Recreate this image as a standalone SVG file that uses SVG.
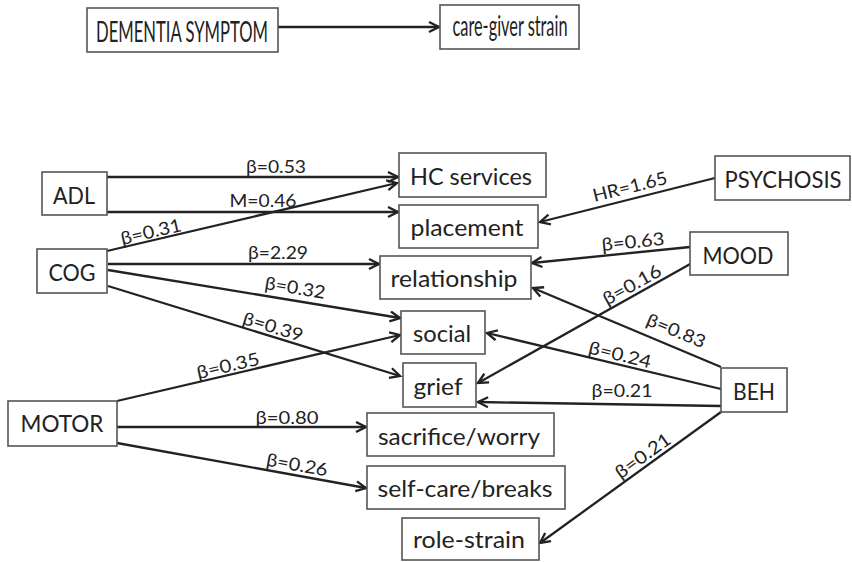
<svg xmlns="http://www.w3.org/2000/svg" width="852" height="562" viewBox="0 0 852 562">
<style>
.box{fill:#fff;stroke:#555;stroke-width:1.6}
.bt{font-family:Lato,"Open Sans","Liberation Sans",sans-serif;font-size:23.5px;fill:#222;text-anchor:middle}
.tt{font-size:28px}
.lb{font-family:Lato,"Open Sans","Liberation Sans",sans-serif;font-size:18px;fill:#222;text-anchor:middle}
.c line{stroke:#222;stroke-width:2.3;fill:none;marker-end:url(#ah)}
</style>
<defs>
<marker id="ah" markerUnits="userSpaceOnUse" markerWidth="14" markerHeight="14" refX="11" refY="6" orient="auto">
<path d="M1,1 L11,6 L1,11" fill="none" stroke="#222" stroke-width="2.3"/>
</marker>
</defs>
<rect width="852" height="562" fill="#fff"/>
<g class="c" id="connectors">
<line x1="278" y1="27" x2="439" y2="27"/>
<line x1="107" y1="177" x2="398" y2="177"/>
<line x1="107" y1="212" x2="398" y2="212"/>
<line x1="107" y1="251" x2="397" y2="183"/>
<line x1="108" y1="264" x2="379" y2="264"/>
<line x1="108" y1="270" x2="400" y2="318"/>
<line x1="108" y1="286" x2="400" y2="376"/>
<line x1="117" y1="401" x2="400" y2="335"/>
<line x1="117" y1="427" x2="366" y2="427"/>
<line x1="117" y1="443" x2="366" y2="488"/>
<line x1="715" y1="178" x2="540" y2="222"/>
<line x1="690" y1="247" x2="532" y2="263"/>
<line x1="692" y1="263" x2="478" y2="383"/>
<line x1="721" y1="367" x2="533" y2="288"/>
<line x1="721" y1="389" x2="487" y2="333"/>
<line x1="721" y1="406" x2="478" y2="402"/>
<line x1="721" y1="412" x2="540" y2="543"/>
</g>
<g id="labels">
<text class="lb" x="276" y="173" textLength="60" lengthAdjust="spacingAndGlyphs">β=0.53</text>
<text class="lb" x="263" y="207" textLength="67" lengthAdjust="spacingAndGlyphs">M=0.46</text>
<text class="lb" transform="translate(151,232) rotate(-13.2)" x="0" y="6" textLength="62" lengthAdjust="spacingAndGlyphs">β=0.31</text>
<text class="lb" x="278" y="259" textLength="60" lengthAdjust="spacingAndGlyphs">β=2.29</text>
<text class="lb" transform="translate(295,288) rotate(9.3)" x="0" y="6" textLength="61" lengthAdjust="spacingAndGlyphs">β=0.32</text>
<text class="lb" transform="translate(273,327) rotate(17)" x="0" y="6" textLength="62" lengthAdjust="spacingAndGlyphs">β=0.39</text>
<text class="lb" transform="translate(228,366) rotate(-13.2)" x="0" y="6" textLength="64" lengthAdjust="spacingAndGlyphs">β=0.35</text>
<text class="lb" x="287" y="424" textLength="63" lengthAdjust="spacingAndGlyphs">β=0.80</text>
<text class="lb" transform="translate(297,465) rotate(10.2)" x="0" y="6" textLength="62" lengthAdjust="spacingAndGlyphs">β=0.26</text>
<text class="lb" transform="translate(630,187) rotate(-14)" x="0" y="6" textLength="76" lengthAdjust="spacingAndGlyphs">HR=1.65</text>
<text class="lb" transform="translate(633,242) rotate(-5.7)" x="0" y="6" textLength="63" lengthAdjust="spacingAndGlyphs">β=0.63</text>
<text class="lb" transform="translate(632,285) rotate(-29)" x="0" y="6" textLength="64" lengthAdjust="spacingAndGlyphs">β=0.16</text>
<text class="lb" transform="translate(676,331) rotate(22.7)" x="0" y="6" textLength="62" lengthAdjust="spacingAndGlyphs">β=0.83</text>
<text class="lb" transform="translate(620,355) rotate(13.6)" x="0" y="6" textLength="64" lengthAdjust="spacingAndGlyphs">β=0.24</text>
<text class="lb" x="622" y="397" textLength="61" lengthAdjust="spacingAndGlyphs">β=0.21</text>
<text class="lb" transform="translate(643,456) rotate(-35.7)" x="0" y="6" textLength="64" lengthAdjust="spacingAndGlyphs">β=0.21</text>
</g>
<g id="dementia-symptom"><rect class="box" x="87" y="8" width="191" height="44"/><text class="bt tt" x="182" y="42" textLength="172" lengthAdjust="spacingAndGlyphs">DEMENTIA SYMPTOM</text></g>
<g id="care-giver-strain"><rect class="box" x="440" y="5" width="139" height="44"/><text class="bt tt" x="510" y="36" textLength="115" lengthAdjust="spacingAndGlyphs">care-giver strain</text></g>
<g id="adl"><rect class="box" x="42" y="172" width="65" height="43"/><text class="bt" x="74" y="204" textLength="42" lengthAdjust="spacingAndGlyphs">ADL</text></g>
<g id="cog"><rect class="box" x="37" y="249" width="70" height="44"/><text class="bt" x="72" y="281" textLength="47" lengthAdjust="spacingAndGlyphs">COG</text></g>
<g id="motor"><rect class="box" x="8" y="401" width="109" height="45"/><text class="bt" x="62" y="432" textLength="83" lengthAdjust="spacingAndGlyphs">MOTOR</text></g>
<g id="hc-services"><rect class="box" x="399" y="153" width="147" height="44"/><text class="bt" x="471" y="185" textLength="122" lengthAdjust="spacingAndGlyphs">HC services</text></g>
<g id="placement"><rect class="box" x="399" y="205" width="139" height="43"/><text class="bt" x="467" y="236" textLength="113" lengthAdjust="spacingAndGlyphs">placement</text></g>
<g id="relationship"><rect class="box" x="380" y="256" width="151" height="43"/><text class="bt" x="454" y="287" textLength="127" lengthAdjust="spacingAndGlyphs">relationship</text></g>
<g id="social"><rect class="box" x="401" y="311" width="84" height="43"/><text class="bt" x="442" y="342" textLength="58" lengthAdjust="spacingAndGlyphs">social</text></g>
<g id="grief"><rect class="box" x="403" y="363" width="73" height="44"/><text class="bt" x="438" y="395" textLength="49" lengthAdjust="spacingAndGlyphs">grief</text></g>
<g id="sacrifice-worry"><rect class="box" x="367" y="413" width="187" height="43"/><text class="bt" x="459" y="445" textLength="162" lengthAdjust="spacingAndGlyphs">sacrifice/worry</text></g>
<g id="self-care-breaks"><rect class="box" x="367" y="466" width="198" height="43"/><text class="bt" x="465" y="497" textLength="175" lengthAdjust="spacingAndGlyphs">self-care/breaks</text></g>
<g id="role-strain"><rect class="box" x="402" y="518" width="137" height="42"/><text class="bt" x="469" y="548" textLength="112" lengthAdjust="spacingAndGlyphs">role-strain</text></g>
<g id="psychosis"><rect class="box" x="715" y="156" width="135" height="44"/><text class="bt" x="783" y="188" textLength="117" lengthAdjust="spacingAndGlyphs">PSYCHOSIS</text></g>
<g id="mood"><rect class="box" x="690" y="232" width="98" height="43"/><text class="bt" x="738" y="264" textLength="71" lengthAdjust="spacingAndGlyphs">MOOD</text></g>
<g id="beh"><rect class="box" x="721" y="368" width="66" height="44"/><text class="bt" x="754" y="400" textLength="42" lengthAdjust="spacingAndGlyphs">BEH</text></g>
</svg>
